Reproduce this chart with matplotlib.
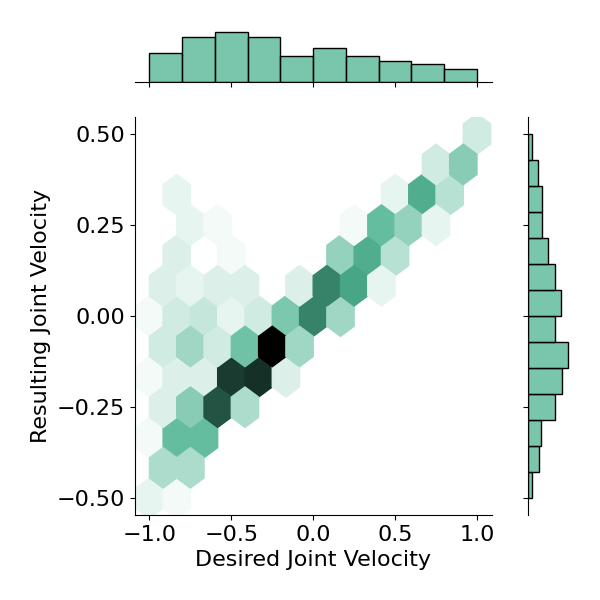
import colorsys
import numpy as np
import matplotlib
matplotlib.use("Agg")
import matplotlib.pyplot as plt
import matplotlib.colors as mcolors

BASE = "#4CB391"

# hex cell centres (data units) and counts
hex_x = [1.0,
         0.75, 0.917,
         -0.833, 0.5, 0.667, 0.833,
         -0.75, -0.583, 0.25, 0.417, 0.583, 0.75,
         -0.833, -0.5, 0.167, 0.333, 0.5,
         -0.917, -0.75, -0.583, -0.417, -0.083, 0.083, 0.25, 0.417,
         -1.0, -0.833, -0.667, -0.5, -0.333, -0.167, 0.0, 0.167,
         -0.917, -0.75, -0.583, -0.417, -0.25, -0.083,
         -1.0, -0.833, -0.667, -0.5, -0.333, -0.167,
         -0.917, -0.75, -0.583, -0.417,
         -1.0, -0.833, -0.667,
         -0.917, -0.75,
         -1.0, -0.833]
hex_y = [0.5,
         0.417, 0.417,
         0.333, 0.333, 0.333, 0.333,
         0.25, 0.25, 0.25, 0.25, 0.25, 0.25,
         0.167, 0.167, 0.167, 0.167, 0.167,
         0.083, 0.083, 0.083, 0.083, 0.083, 0.083, 0.083, 0.083,
         0.0, 0.0, 0.0, 0.0, 0.0, 0.0, 0.0, 0.0,
         -0.083, -0.083, -0.083, -0.083, -0.083, -0.083,
         -0.167, -0.167, -0.167, -0.167, -0.167, -0.167,
         -0.25, -0.25, -0.25, -0.25,
         -0.333, -0.333, -0.333,
         -0.417, -0.417,
         -0.5, -0.5]
hex_n = [4,
         4, 10,
         2, 2, 15, 6,
         2, 1, 1, 13, 9, 2,
         3, 1, 9, 15, 6,
         3, 2, 3, 3, 3, 19, 16, 2,
         1, 4, 5, 2, 4, 11, 19, 8,
         4, 8, 4, 12, 30, 8,
         1, 3, 3, 25, 26, 3,
         3, 10, 23, 7,
         1, 13, 13,
         7, 7,
         2, 1]

# marginal histograms
x_counts = [40, 62, 68, 62, 35, 47, 35, 28, 24, 17]          # bins -1..1
y_counts = [5, 17, 20, 40, 52, 61, 41, 50, 40, 30, 21, 21, 15, 6]  # bins -0.5..0.5, bottom->top

plt.rcParams.update({"font.family": "DejaVu Sans", "font.size": 16})

# seaborn-style light->dark ramp through the base colour
h, l, s = colorsys.rgb_to_hls(*mcolors.to_rgb(BASE))
ramp = [colorsys.hls_to_rgb(h, v, s) for v in np.linspace(1, 0, 12)]
cmap = mcolors.LinearSegmentedColormap.from_list("hexgreen", ramp)

fig = plt.figure(figsize=(6, 6), dpi=100)
ax = fig.add_axes([0.2245, 0.1417, 0.595, 0.6628])
axx = fig.add_axes([0.2245, 0.8638, 0.595, 0.0863], sharex=ax)
axy = fig.add_axes([0.8805, 0.1417, 0.07, 0.6628], sharey=ax)

ax.hexbin(hex_x, hex_y, C=hex_n, reduce_C_function=np.sum, gridsize=(12, 6),
          extent=(-1, 1, -0.5, 0.5), cmap=cmap, vmin=0, vmax=max(hex_n))
ax.set_xlim(-1.09, 1.09)
ax.set_ylim(-0.546, 0.546)
ax.set_xticks([-1.0, -0.5, 0.0, 0.5, 1.0])
ax.set_yticks([-0.5, -0.25, 0.0, 0.25, 0.5])
ax.set_xlabel("Desired Joint Velocity")
ax.set_ylabel("Resulting Joint Velocity")
for sp in ("top", "right"):
    ax.spines[sp].set_visible(False)

fill = mcolors.to_rgba(BASE, 0.75)
xe = np.linspace(-1, 1, len(x_counts) + 1)
axx.bar(xe[:-1], x_counts, width=np.diff(xe), align="edge",
        facecolor=fill, edgecolor="black", linewidth=1.0)
axx.set_ylim(0, max(x_counts) * 1.05)
ye = np.linspace(-0.5, 0.5, len(y_counts) + 1)
axy.barh(ye[:-1], y_counts, height=np.diff(ye), align="edge",
         facecolor=fill, edgecolor="black", linewidth=1.0)
axy.set_xlim(0, max(y_counts) * 1.05)

for sp in ("top", "right", "left"):
    axx.spines[sp].set_visible(False)
axx.tick_params(axis="x", labelbottom=False)
axx.tick_params(axis="y", left=False, labelleft=False)
for sp in ("top", "right", "bottom"):
    axy.spines[sp].set_visible(False)
axy.tick_params(axis="y", labelleft=False)
axy.tick_params(axis="x", bottom=False, labelbottom=False)

fig.savefig("out.png", dpi=100)
